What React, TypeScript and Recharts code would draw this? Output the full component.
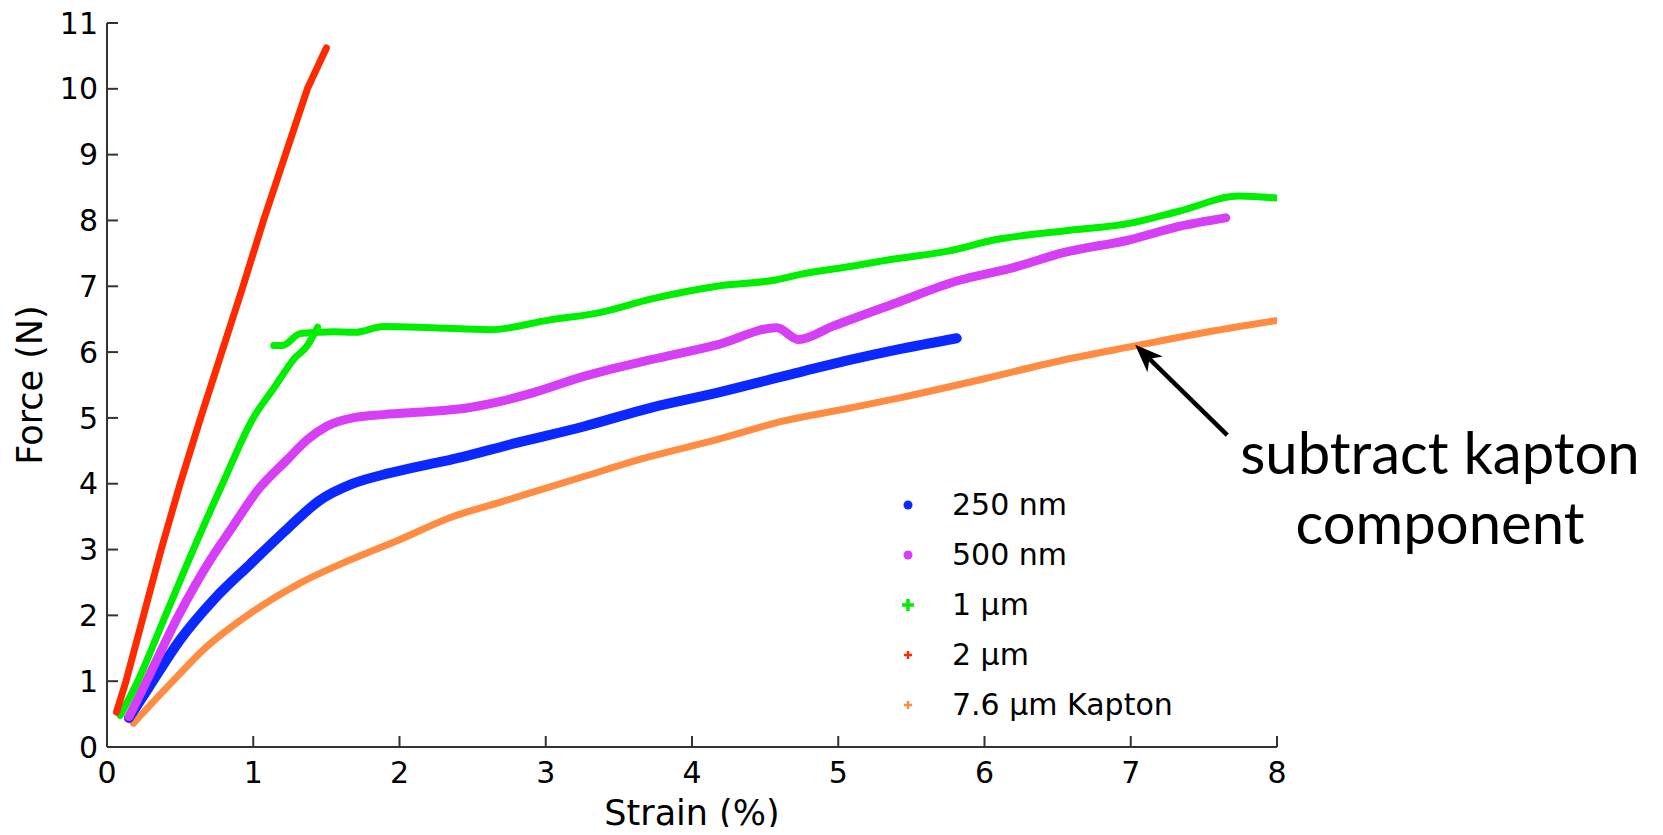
import { Legend, Line, LineChart, ReferenceLine, XAxis, YAxis } from "recharts"

type Pt = { x: number; y: number }
const pts = (rows: number[][]): Pt[] => rows.map(([x, y]) => ({ x, y }))

const strainTicks = [0, 1, 2, 3, 4, 5, 6, 7, 8]
const forceTicks = [0, 1, 2, 3, 4, 5, 6, 7, 8, 9, 10, 11]

// strain (%) vs force (N)
const film250nm = pts([
  [0.15, 0.44], [0.29, 0.92], [0.5, 1.63], [0.73, 2.24], [0.98, 2.78], [1.24, 3.33],
  [1.45, 3.74], [1.68, 4.0], [1.93, 4.16], [2.23, 4.31], [2.34, 4.36], [2.8, 4.62],
  [3.26, 4.87], [3.71, 5.15], [4.17, 5.38], [4.62, 5.63], [5.08, 5.88], [5.41, 6.04],
  [5.81, 6.21],
])

const film500nm = pts([
  [0.15, 0.46], [0.27, 1.0], [0.49, 2.0], [0.7, 2.82], [0.86, 3.35],
  [1.03, 3.9], [1.23, 4.36], [1.37, 4.67], [1.5, 4.87], [1.68, 5.0], [1.89, 5.05],
  [2.23, 5.1], [2.46, 5.15], [2.69, 5.25], [2.91, 5.38], [3.26, 5.63], [3.71, 5.88],
  [4.17, 6.11], [4.58, 6.37], [4.73, 6.19], [4.96, 6.39], [5.4, 6.75], [5.81, 7.08],
  [6.19, 7.28], [6.54, 7.51], [7.0, 7.71], [7.33, 7.91], [7.65, 8.04],
])

// 1 um film: loading branch, then the branch after the slip
const film1umRise = pts([
  [0.09, 0.48], [0.21, 1.0], [0.4, 2.0], [0.59, 3.0], [0.79, 4.0], [1.0, 5.0],
  [1.14, 5.45], [1.28, 5.9], [1.37, 6.1], [1.44, 6.38],
])
const film1umPlateau = pts([
  [1.14, 6.1], [1.2, 6.1], [1.32, 6.28], [1.44, 6.3], [1.55, 6.31], [1.7, 6.3],
  [1.89, 6.39], [2.23, 6.37], [2.62, 6.34], [3.03, 6.49], [3.37, 6.6], [3.71, 6.8],
  [4.17, 7.0], [4.58, 7.1], [4.74, 7.18], [5.08, 7.3], [5.37, 7.41], [5.74, 7.53],
  [6.08, 7.71], [6.54, 7.84], [7.0, 7.96], [7.33, 8.14], [7.74, 8.37], [8.0, 8.34],
])

const film2um = pts([
  [0.065, 0.53], [0.13, 1.0], [0.25, 2.0], [0.37, 3.0], [0.5, 4.0], [0.64, 5.0],
  [0.785, 6.0], [0.93, 7.0], [1.07, 8.0], [1.22, 9.0], [1.37, 10.0], [1.5, 10.62],
])

const kapton = pts([
  [0.18, 0.36], [0.45, 1.0], [0.68, 1.52], [0.96, 2.0], [1.32, 2.49], [1.66, 2.84],
  [2.0, 3.15], [2.34, 3.48], [2.69, 3.72], [3.26, 4.11], [3.71, 4.41], [4.17, 4.67],
  [4.62, 4.95], [5.08, 5.15], [5.41, 5.3], [5.97, 5.58], [6.54, 5.88], [7.02, 6.09],
  [7.56, 6.32], [8.0, 6.48],
])

const arrowTail = { x: 7.66, y: 4.74 }
const arrowTip = { x: 7.03, y: 6.11 }

const BLUE = "#0a28ff"
const MAGENTA = "#d63ff5"
const GREEN = "#00ee00"
const RED = "#ff2a00"
const ORANGE = "#ff8c40"

const legendItems = [
  { label: "250 nm", color: BLUE, marker: "dot" },
  { label: "500 nm", color: MAGENTA, marker: "dot" },
  { label: "1 µm", color: GREEN, marker: "cross" },
  { label: "2 µm", color: RED, marker: "plus" },
  { label: "7.6 µm Kapton", color: ORANGE, marker: "plus" },
]

const font = "'DejaVu Sans', Verdana, sans-serif"

function LegendBox() {
  return (
    <div style={{ fontFamily: font, fontSize: 30, color: "#000" }}>
      {legendItems.map((it) => (
        <div key={it.label} style={{ display: "flex", alignItems: "center", height: 50 }}>
          <svg width={26} height={26}>
            {it.marker === "dot" ? (
              <circle cx={13} cy={13} r={4.5} fill={it.color} />
            ) : (
              <path
                d={it.marker === "cross" ? "M13 7 L13 19 M7 13 L19 13" : "M13 9 L13 17 M9 13 L17 13"}
                stroke={it.color}
                strokeWidth={it.marker === "cross" ? 3.5 : 2.5}
              />
            )}
          </svg>
          <span style={{ marginLeft: 31, lineHeight: 1 }}>{it.label}</span>
        </div>
      ))}
    </div>
  )
}

function Arrow(props: any) {
  const { x1, y1, x2, y2 } = props
  const dx = x2 - x1
  const dy = y2 - y1
  const len = Math.sqrt(dx * dx + dy * dy) || 1
  const ux = dx / len
  const uy = dy / len
  const nx = -uy
  const ny = ux
  const bx = x2 - ux * 28
  const by = y2 - uy * 28
  const notchX = x2 - ux * 20
  const notchY = y2 - uy * 20
  return (
    <g>
      <line x1={x1} y1={y1} x2={notchX} y2={notchY} stroke="#000" strokeWidth={4.5} />
      <polygon
        points={`${x2},${y2} ${bx + nx * 11},${by + ny * 11} ${notchX},${notchY} ${bx - nx * 11},${by - ny * 11}`}
        fill="#000"
      />
    </g>
  )
}

export default function App() {
  const tickStyle = { fontFamily: font, fontSize: 30, fill: "#000" }
  const series = [
    { data: kapton, color: ORANGE, w: 7, curve: "monotone" },
    { data: film250nm, color: BLUE, w: 10, curve: "monotone" },
    { data: film500nm, color: MAGENTA, w: 9, curve: "monotone" },
    { data: film1umRise, color: GREEN, w: 7, curve: "monotone" },
    { data: film1umPlateau, color: GREEN, w: 7, curve: "monotone" },
    { data: film2um, color: RED, w: 7, curve: "linear" },
  ]
  return (
    <div style={{ position: "relative", margin: -8, width: 1663, height: 835, background: "#fff" }}>
      <LineChart
        width={1300}
        height={835}
        margin={{ top: 23, right: 23, left: 0, bottom: 0 }}
      >
        <XAxis
          type="number"
          dataKey="x"
          domain={[0, 8]}
          ticks={strainTicks}
          allowDataOverflow
          height={88}
          stroke="#333"
          strokeWidth={2}
          tickSize={-11}
          tickMargin={26}
          tick={tickStyle}
          label={{
            value: "Strain (%)",
            position: "insideBottom",
            offset: 10,
            style: { fontFamily: font, fontSize: 35, fill: "#000" },
          }}
        />
        <YAxis
          type="number"
          dataKey="y"
          domain={[0, 11]}
          ticks={forceTicks}
          allowDataOverflow
          width={107}
          stroke="#333"
          strokeWidth={2}
          tickSize={-11}
          tickMargin={20}
          tick={tickStyle}
          label={{
            value: "Force (N)",
            angle: -90,
            position: "insideLeft",
            offset: 30,
            style: { fontFamily: font, fontSize: 35, fill: "#000", textAnchor: "middle" },
          }}
        />
        <Legend
          layout="vertical"
          align="center"
          verticalAlign="middle"
          wrapperStyle={{ left: 895, top: 480, width: "auto" }}
          content={() => <LegendBox />}
        />
        {series.map((s, i) => (
          <Line
            key={i}
            data={s.data}
            dataKey="y"
            type={s.curve as any}
            stroke={s.color}
            strokeWidth={s.w}
            strokeLinecap="round"
            strokeLinejoin="round"
            dot={false}
            activeDot={false}
            isAnimationActive={false}
          />
        ))}
        <ReferenceLine
          segment={[arrowTail, arrowTip]}
          ifOverflow="visible"
          shape={(p: any) => <Arrow {...p} />}
        />
      </LineChart>
      <div
        style={{
          position: "absolute",
          left: 1190,
          top: 417,
          width: 500,
          textAlign: "center",
          fontFamily: "Lato, 'Open Sans', sans-serif",
          fontSize: 58,
          lineHeight: "70px",
          color: "#000",
        }}
      >
        subtract kapton
        <br />
        component
      </div>
    </div>
  )
}
